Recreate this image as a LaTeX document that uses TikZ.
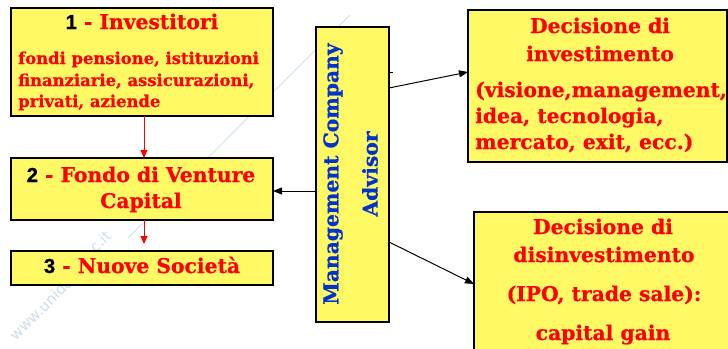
\documentclass[tikz,border=0pt]{standalone}
\usepackage{fontspec}
\setmainfont{DejaVu Serif}[BoldFeatures={FakeBold=0.6}]
\newfontfamily\numfont{Liberation Sans}[BoldFeatures={FakeBold=0.8}]
\newfontfamily\wmfont{DejaVu Sans}
\usetikzlibrary{arrows.meta}
\definecolor{boxyellow}{RGB}{255,249,102}
\definecolor{txtred}{RGB}{255,0,0}
\definecolor{txtblue}{RGB}{0,51,204}
\definecolor{wmblue}{RGB}{205,222,240}
\tikzset{
  panel/.style={draw=black, line width=1.5pt, fill=boxyellow},
  line/.style={anchor=base, inner sep=0pt},
  redline/.style={line, text=txtred},
  big/.style={font=\bfseries\fontsize{20.3}{20}\selectfont},
  small/.style={font=\bfseries\fontsize{16.4}{16}\selectfont},
  flow/.style={draw=txtred, line width=0.9pt, -{Triangle[length=8pt,width=7pt]}},
  link/.style={draw=black, line width=1pt, -{Triangle[length=9pt,width=7pt]}},
  wm/.style={wmblue, rotate=45, inner sep=0pt, font=\wmfont\fontsize{15}{15}\selectfont}
}
\begin{document}
\begin{tikzpicture}[x=1pt,y=-1pt]
  \useasboundingbox (0,0) rectangle (728,348);
  \fill[white] (0,0) rectangle (728,348);

  % faint watermark
  \draw[wmblue, line width=0.8pt] (350,15) -- (128,238);
  \node[wm, anchor=south west] (wm1) at (16,342) {www.unido};
  \node[wm, anchor=south west] (wm2) at (96,254) {c.it};

  % left column: flow of capital
  \draw[panel] (11,8) rectangle (273,116);
  \node[line, big] (t1) at (142,29) {{\numfont 1} \textcolor{txtred}{- Investitori}};
  \node[redline, small, anchor=base west] (b1a) at (18,64) {fondi pensione, istituzioni};
  \node[redline, small, anchor=base west] (b1b) at (18,86) {finanziarie, assicurazioni,};
  \node[redline, small, anchor=base west] (b1c) at (18,107) {privati, aziende};
  \coordinate (b1s) at (144,116);

  \draw[panel] (11,158) rectangle (273,220);
  \node[line, big] (t2a) at (141,182) {{\numfont 2} \textcolor{txtred}{- Fondo di Venture}};
  \node[redline, big] (t2b) at (141,208) {Capital};
  \coordinate (b2n) at (144,158);
  \coordinate (b2s) at (144,220);
  \coordinate (b2e) at (273,191);

  \draw[panel] (11,251) rectangle (273,285);
  \node[line, big] (t3) at (142,273) {{\numfont 3} \textcolor{txtred}{- Nuove Società}};
  \coordinate (b3n) at (144,244);

  % management company
  \draw[panel] (316,27) rectangle (389,322);
  \node[rotate=90, text=txtblue, big, inner sep=0pt] (mc1) at (333,174) {Management Company};
  \node[rotate=90, text=txtblue, big, inner sep=0pt] (mc2) at (370,174) {Advisor};
  \coordinate (mcw) at (316,191);
  \coordinate (mce1) at (389,88);
  \coordinate (mce2) at (389,242);
  \coordinate (stubA) at (389,72);
  \coordinate (stubB) at (393,72);

  % investment decision
  \draw[panel] (468,10) rectangle (727,162);
  \node[redline, big] (d1a) at (600,33) {Decisione di};
  \node[redline, big] (d1b) at (600,61) {investimento};
  \node[redline, big, anchor=base west] (d1c) at (475,97) {(visione,management,};
  \node[redline, big, anchor=base west] (d1d) at (475,123) {idea, tecnologia,};
  \node[redline, big, anchor=base west] (d1e) at (475,149) {mercato, exit, ecc.)};
  \coordinate (d1w) at (468,72);

  % divestment decision (runs past the lower right edge)
  \fill[boxyellow] (474,212) rectangle (730,350);
  \draw[black, line width=1.5pt] (474,350) -- (474,212) -- (730,212);
  \node[redline, big] (d2a) at (603,234) {Decisione di};
  \node[redline, big] (d2b) at (604,262) {disinvestimento};
  \node[redline, big] (d2c) at (604,301) {(IPO, trade sale):};
  \node[redline, big] (d2d) at (603,340) {capital gain};
  \coordinate (d2w) at (474,284);

  % connectors
  \draw[flow] (b1s) -- (b2n);
  \draw[flow] (b2s) -- (b3n);
  \draw[link] (mcw) -- (b2e);
  \draw[link] (mce1) -- (d1w);
  \draw[link] (mce2) -- (d2w);
  \draw[black, line width=0.8pt] (stubA) -- (stubB);
\end{tikzpicture}
\end{document}
